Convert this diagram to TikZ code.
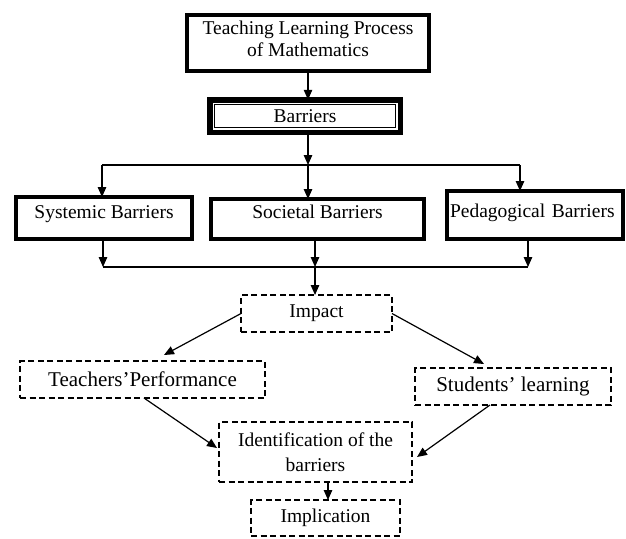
\documentclass[tikz,border=0pt]{standalone}
\usepackage{fontspec}
\setmainfont{Liberation Serif}
\usetikzlibrary{arrows.meta}
\tikzset{
  thickbox/.style={draw, line width=4pt, inner sep=0pt, outer sep=0pt, align=center,
    font=\fontsize{19.5}{22}\selectfont},
  dashbox/.style={draw, line width=2pt, dash pattern=on 6pt off 3.5pt, inner sep=0pt,
    outer sep=0pt, align=center, font=\fontsize{19.5}{25}\selectfont},
  bigtext/.style={font=\fontsize{21}{24}\selectfont},
  conn/.style={line width=1.2pt},
  arr/.style={conn, -{Triangle[length=10pt,width=8.5pt]}},
}
\begin{document}
\begin{tikzpicture}[x=1pt,y=-1pt]
\useasboundingbox (0,0) rectangle (626,538);

% top boxes
\node[thickbox, minimum width=242pt, minimum height=56pt, text depth=8pt] (top) at (308,43)
  {Teaching Learning Process\\of Mathematics};
\node[thickbox, line width=5.5pt, minimum width=190.5pt, minimum height=32.5pt] (bar) at (305,116) {Barriers};
\draw[line width=1.5pt] ([shift={(4.75,4.75)}]bar.north west) rectangle ([shift={(-4.75,-4.75)}]bar.south east);

% barrier types
\node[thickbox, minimum width=176pt, minimum height=42pt, text height=13.5pt, text depth=13.5pt] (sys) at (104,218) {Systemic Barriers};
\node[thickbox, minimum width=213pt, minimum height=40pt, text height=13pt, text depth=15pt] (soc) at (317.5,219) {Societal Barriers};
\node[thickbox, minimum width=176pt, minimum height=48pt, text height=14pt, text depth=10pt, text width=170pt, align=left] (ped) at (535,215) {Pedagogical Barriers};

% dashed boxes
\node[dashbox, minimum width=151pt, minimum height=37pt] (imp) at (316.5,313.5) {Impact};
\node[dashbox, bigtext, minimum width=245pt, minimum height=37pt] (tp) at (142.5,379.5) {Teachers’Performance};
\node[dashbox, bigtext, minimum width=196pt, minimum height=37pt] (st) at (513,386.5) {Students’ learning};
\node[dashbox, minimum width=193pt, minimum height=60pt] (id) at (315.5,452) {Identification of the\\barriers};
\node[dashbox, minimum width=149pt, minimum height=36pt] (impl) at (325.5,518) {Implication};

% junction coordinates
\coordinate (ja) at (308,165);
\coordinate (jl) at (102,165);
\coordinate (jr) at (520,165);
\coordinate (kb) at (315,267);
\coordinate (kl) at (103,267);
\coordinate (kr) at (528,267);

% connectors
\draw[arr] (top.south) -- (top.south |- bar.north);
\draw[arr] (top.south |- bar.south) -- (ja);
\draw[conn] (jl) -- (jr);
\draw[arr] (jl) -- (jl |- sys.north);
\draw[arr] (ja) -- (ja |- soc.north);
\draw[arr] (jr) -- (jr |- ped.north);

\draw[arr] (kl |- sys.south) -- (kl);
\draw[arr] (kb |- soc.south) -- (kb);
\draw[arr] (kr |- ped.south) -- (kr);
\draw[conn] (kl) -- (kr);
\draw[arr] (kb) -- (kb |- imp.north);

\draw[arr] (imp.west) -- ([shift={(21.5,-6)}]tp.north);
\draw[arr] (imp.east) -- ([shift={(-29,-4)}]st.north);
\draw[arr] ([xshift=1.5pt]tp.south) -- ([shift={(-2,-4)}]id.west);
\draw[arr] ([xshift=-23pt]st.south) -- ([shift={(5,5)}]id.east);
\draw[arr] ([xshift=12.5pt]id.south) -- ([xshift=12.5pt]id.south |- impl.north);
\end{tikzpicture}
\end{document}
